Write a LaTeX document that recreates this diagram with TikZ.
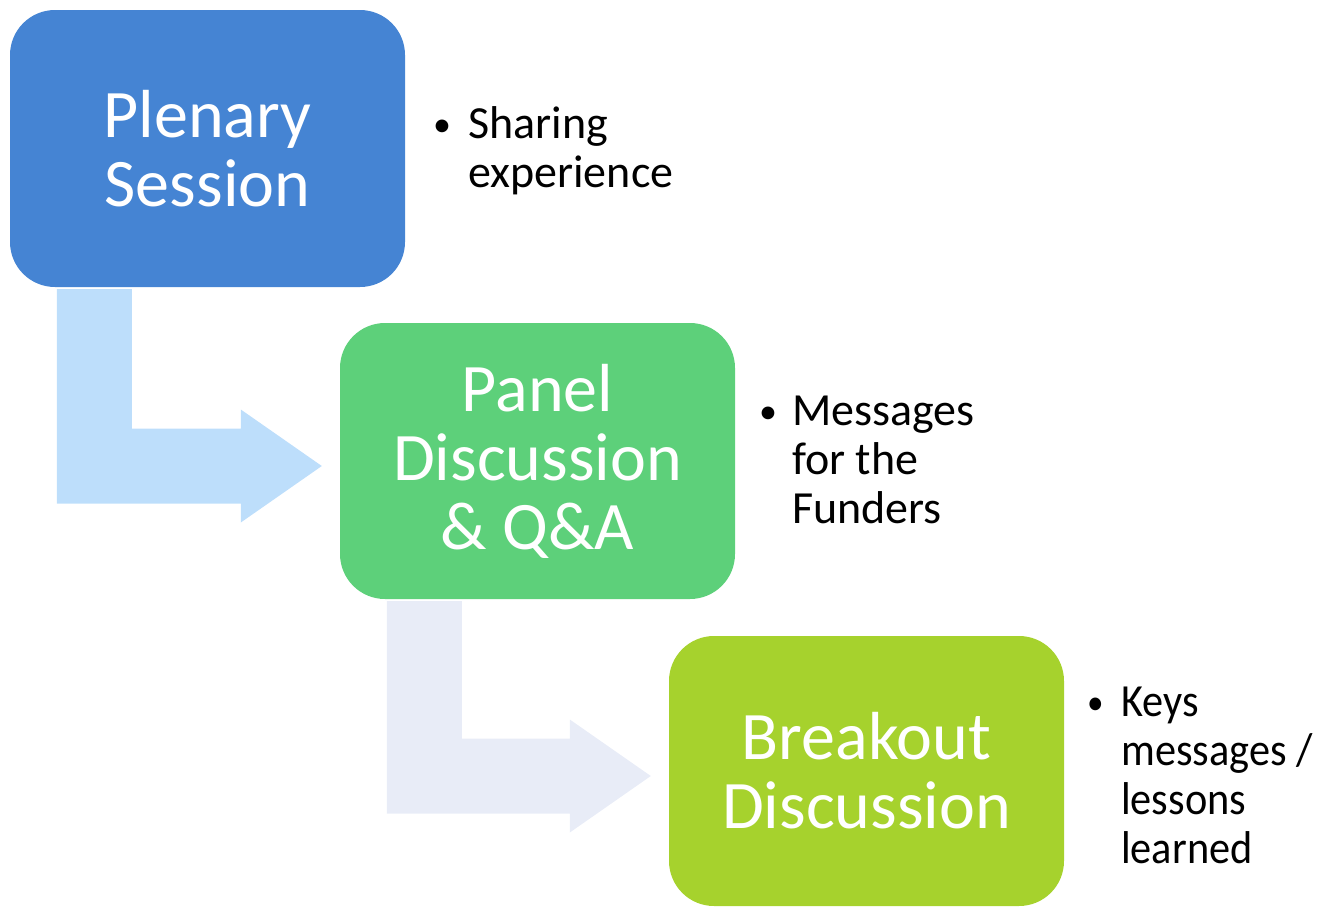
\documentclass[tikz,border=0pt]{standalone}
\usepackage{fontspec}
\setmainfont{Carlito}
\newfontfamily\notenarrow[FakeStretch=0.92]{Carlito}
\usepackage{xcolor}
\usepackage{tikz}
\usetikzlibrary{calc}

\definecolor{plenaryblue}{RGB}{69,132,211}
\definecolor{panelgreen}{RGB}{93,208,122}
\definecolor{breakoutlime}{RGB}{166,210,45}
\definecolor{arrowblue}{RGB}{189,222,251}
\definecolor{arrowgrey}{RGB}{232,236,247}

\tikzset{
  stagebox/.style={rounded corners=45pt, minimum width=395pt, inner sep=0pt,
    text=white, align=center, font=\fontsize{68}{69}\selectfont},
  note/.style={anchor=base west, inner sep=0pt, font=\fontsize{46}{49}\selectfont}
}

% small bullet for the notes
\newcommand{\notebullet}{\raisebox{2pt}{\fontsize{36}{36}\selectfont\textbullet}}

% bent arrow from under one box to the left side of the next one
\newcommand{\bentarrow}[3]{%
  \coordinate (ba) at ($(#1.south west)+(47,2)$);
  \coordinate (bt) at ($(#2.west)+(-18,5)$);
  \fill[#3] (ba) -- ++(75,0) |- ($(bt)+(-81,-37.5)$) -- ++(0,-19) -- (bt)
    -- ($(bt)+(-81,56.5)$) -- ++(0,-19) coordinate (bs) -- (ba |- bs) -- cycle;
}

\begin{document}
\begin{tikzpicture}[x=1pt,y=-1pt]
\useasboundingbox (0,0) rectangle (1318,908);

% --- Stages ---
\node[stagebox, fill=plenaryblue, minimum height=277pt] (plenary) at (207.5,148.5) {Plenary\\Session};
\node[stagebox, fill=panelgreen, minimum height=276pt] (panel) at (537.5,461) {Panel\\Discussion\\\& Q\&A};
\node[stagebox, fill=breakoutlime, minimum height=270pt] (breakout) at (866.5,771) {Breakout\\Discussion};

% --- Arrows between stages ---
\bentarrow{plenary}{panel}{arrowblue}
\bentarrow{panel}{breakout}{arrowgrey}

% --- Notes next to each stage ---
\node[note] (sharing) at (433,138) {\begin{tabular}[t]{@{}p{35pt}@{}l@{}}\notebullet & Sharing\\ & experience\end{tabular}};
\node[note] (funders) at (759,425) {\begin{tabular}[t]{@{}p{33pt}@{}l@{}}\notebullet & Messages\\ & for the\\ & Funders\end{tabular}};
\node[note, font=\notenarrow\fontsize{46}{49}\selectfont] (lessons) at (1087,716) {\begin{tabular}[t]{@{}p{34pt}@{}l@{}}\notebullet & Keys\\ & messages /\\ & lessons\\ & learned\end{tabular}};

\end{tikzpicture}
\end{document}
